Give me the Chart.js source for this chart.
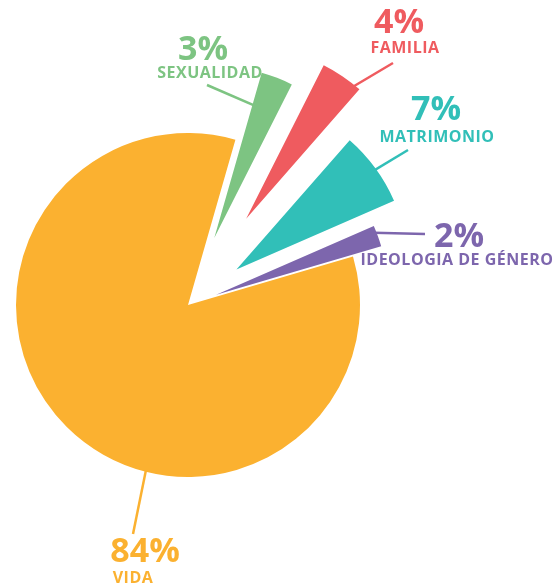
<!DOCTYPE html>
<html>
<head>
<meta charset="utf-8">
<script src="https://cdn.jsdelivr.net/npm/chart.js@4.4.1/dist/chart.umd.min.js"></script>
<style>
  html, body { margin: 0; padding: 0; background: #fff; }
  canvas { display: block; }
</style>
</head>
<body>
<canvas id="temasChart" width="560" height="587"></canvas>
<script>
// Temas - porcentaje
const categories = ['SEXUALIDAD', 'FAMILIA', 'MATRIMONIO', 'IDEOLOGIA DE GÉNERO', 'VIDA'];
const shares = [3, 4, 7, 2, 84];

const sliceColors = ['#7dc482', '#ef5b5f', '#31bfb8', '#7d66ad', '#fbb130'];
// how far each slice is pulled out of the pie (px)
const explode = [72, 104, 60, 30, 0];
// label spots: x/y = number, nx/ny = name, lx/ly = end of leader line,
// at/r = where the line aims inside the slice (fraction of angle, fraction of radius)
const labelSpots = [
  { x: 203, y: 60, nx: 210, ny: 78, lx: 207, ly: 85, at: 0.5, r: 0.8 },
  { x: 399, y: 33, nx: 405, ny: 53, lx: 393, ly: 63, at: 0.7, r: 0.9 },
  { x: 436, y: 120, nx: 437, ny: 142, lx: 408, ly: 150, at: 0.5, r: 0.9 },
  { x: 459, y: 247, nx: 457, ny: 265, lx: 425, ly: 234, at: 0.1, r: 0.93 },
  { x: 145, y: 562, nx: 133, ny: 583, lx: 133, ly: 534, at: 0.4, r: 0.9 }
];

const numberFont = 'bold 34px "Open Sans"';
const nameFont = 'bold 16px "Open Sans"';

const explodePlugin = {
  id: 'explode',
  beforeDatasetsDraw(chart) {
    const meta = chart.getDatasetMeta(0);
    const { left, right, top, bottom } = chart.chartArea;
    const cx = (left + right) / 2;
    const cy = (top + bottom) / 2;
    meta.data.forEach((arc, i) => {
      const mid = (arc.startAngle + arc.endAngle) / 2;
      arc.x = cx + Math.cos(mid) * explode[i];
      arc.y = cy + Math.sin(mid) * explode[i];
    });

    // leader lines, drawn under the slices
    const ctx = chart.ctx;
    ctx.save();
    ctx.lineWidth = 2.5;
    meta.data.forEach((arc, i) => {
      const s = labelSpots[i];
      const a = arc.startAngle + (arc.endAngle - arc.startAngle) * s.at;
      const px = arc.x + Math.cos(a) * arc.outerRadius * s.r;
      const py = arc.y + Math.sin(a) * arc.outerRadius * s.r;
      ctx.strokeStyle = sliceColors[i];
      ctx.beginPath();
      ctx.moveTo(s.lx, s.ly);
      ctx.lineTo(px, py);
      ctx.stroke();
    });
    ctx.restore();
  },
  afterDatasetsDraw(chart) {
    const ctx = chart.ctx;
    ctx.save();
    ctx.textAlign = 'center';
    ctx.textBaseline = 'alphabetic';
    categories.forEach((name, i) => {
      const s = labelSpots[i];
      ctx.fillStyle = sliceColors[i];
      ctx.letterSpacing = '0px';
      ctx.font = numberFont;
      ctx.fillText(shares[i] + '%', s.x, s.y);
      ctx.font = nameFont;
      ctx.letterSpacing = '0.5px';
      ctx.fillText(name, s.nx, s.ny);
    });
    ctx.restore();
  }
};

function drawChart() {
  const ctx = document.getElementById('temasChart').getContext('2d');
  new Chart(ctx, {
    type: 'pie',
    data: {
      labels: categories,
      datasets: [{
        data: shares,
        backgroundColor: sliceColors,
        borderWidth: 0,
        radius: 172,
        rotation: 16
      }]
    },
    options: {
      responsive: false,
      animation: false,
      layout: { padding: { left: 0, right: 184, top: 23, bottom: 0 } },
      plugins: {
        legend: { display: false },
        tooltip: { enabled: false }
      }
    },
    plugins: [explodePlugin]
  });
}

if (document.fonts && document.fonts.load) {
  Promise.all([
    document.fonts.load(numberFont),
    document.fonts.load(nameFont)
  ]).then(drawChart, drawChart);
} else {
  drawChart();
}
</script>
</body>
</html>
